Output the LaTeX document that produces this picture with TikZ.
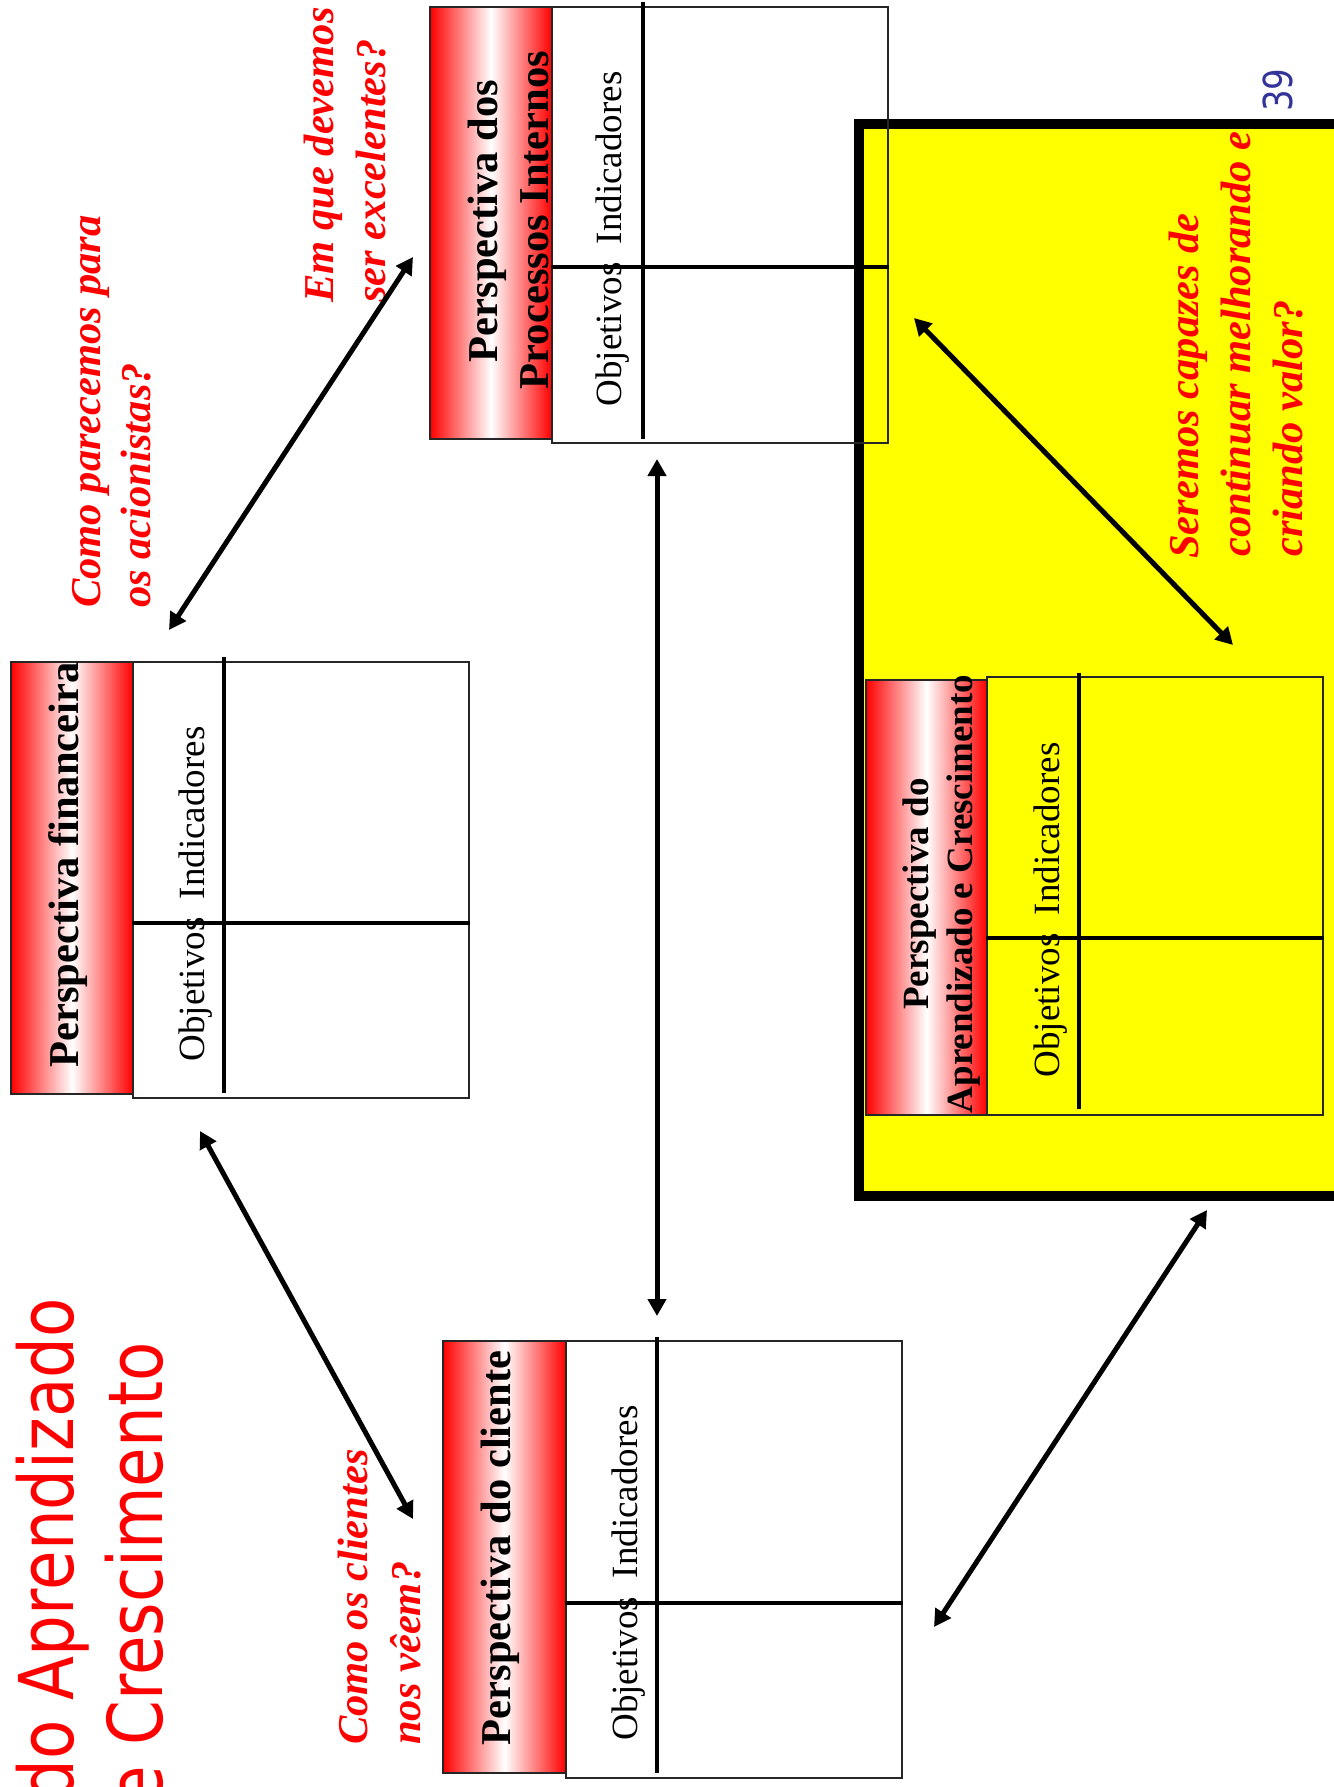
\documentclass[tikz,border=0pt]{standalone}
\usepackage{fontspec}
\setmainfont{Liberation Serif}
\newfontfamily\titlefont[FakeStretch=0.85]{DejaVu Sans}
\usetikzlibrary{arrows.meta,fit}

\definecolor{panelyellow}{RGB}{255,255,0}
\definecolor{askred}{RGB}{255,0,0}
\definecolor{pagenum}{RGB}{51,51,153}

\tikzset{
  header/.style={draw=black!85, line width=1.5pt, left color=red, right color=red,
                 middle color=white, inner sep=0pt},
  card/.style={draw=black!85, line width=1.9pt, inner sep=0pt},
  divider/.style={draw=black, line width=2.6pt},
  headtext/.style={rotate=90, anchor=base, inner sep=0pt,
                   font=\fontsize{31.9}{38}\selectfont\bfseries},
  headsmall/.style={rotate=90, anchor=base, inner sep=0pt,
                    font=\fontsize{27.75}{33}\selectfont\bfseries},
  celltext/.style={rotate=90, anchor=base, inner sep=0pt,
                   font=\fontsize{27.75}{33}\selectfont},
  asktext/.style={rotate=90, anchor=base west, inner sep=0pt, text=askred,
                  font=\fontsize{31.9}{38}\selectfont\bfseries\itshape},
  slidetitle/.style={rotate=90, anchor=base east, inner sep=0pt, text=askred,
                     font=\titlefont\fontsize{56.7}{68}\selectfont},
  link/.style={line width=3.75pt,
               {Triangle[length=12.75pt,width=13.5pt]}-{Triangle[length=12.75pt,width=13.5pt]}},
}

\begin{document}
\begin{tikzpicture}[x=0.75pt, y=-0.75pt]
  \clip (0,0) rectangle (1334,1787);
  \fill[white] (0,0) rectangle (1334,1787);

  % highlighted panel behind the learning perspective
  \draw[line width=7.5pt, fill=panelyellow] (859,124) rectangle (1420,1196);

  % ---- Perspectiva financeira ----
  \node[header, fit={(11,662)(133,1094)}] (finH) {};
  \node[card, fit={(133,662)(469,1098)}] (finC) {};
  \draw[divider] (224,657) -- (224,1093);
  \draw[divider] (finC.west |- 0,923) -- (finC.east |- 0,923);
  \node[headtext] (finT) at (78,865) {Perspectiva financeira};
  \node[celltext] (finL) at (204,894) {Objetivos\ \ Indicadores};

  % ---- Perspectiva dos Processos Internos ----
  \node[header, fit={(430,7)(552,439)}] (proH) {};
  \node[card, fit={(552,7)(888,443)}] (proC) {};
  \draw[divider] (643,2) -- (643,439);
  \draw[divider] (proC.west |- 0,267) -- (proC.east |- 0,267);
  \node[headtext] (proT1) at (497,221) {Perspectiva dos};
  \node[headtext] (proT2) at (548,220) {Processos Internos};
  \node[celltext] (proL) at (621,239) {Objetivos\ \ Indicadores};

  % ---- Perspectiva do cliente ----
  \node[header, fit={(443,1341)(566,1773)}] (cliH) {};
  \node[card, fit={(566,1341)(902,1778)}] (cliC) {};
  \draw[divider] (657,1337) -- (657,1773);
  \draw[divider] (cliC.west |- 0,1603) -- (cliC.east |- 0,1603);
  \node[headtext] (cliT) at (510,1548) {Perspectiva do cliente};
  \node[celltext] (cliL) at (637,1573) {Objetivos\ \ Indicadores};

  % ---- Perspectiva do Aprendizado e Crescimento ----
  \node[header, fit={(866,680)(987,1115)}] (lrnH) {};
  \node[card, fit={(987,677)(1323,1115)}] (lrnC) {};
  \draw[divider] (1079,673) -- (1079,1109);
  \draw[divider] (lrnC.west |- 0,938) -- (lrnC.east |- 0,938);
  \node[headsmall] (lrnT1) at (928,894) {Perspectiva do};
  \node[headsmall] (lrnT2) at (972,894) {Aprendizado e Crescimento};
  \node[celltext] (lrnL) at (1059,910) {Objetivos\ \ Indicadores};

  % ---- questions ----
  \node[asktext] (q1a) at (100,608) {Como parecemos para};
  \node[asktext] (q1b) at (150,608) {os acionistas?};
  \node[asktext] (q2a) at (333,303) {Em que devemos};
  \node[asktext] (q2b) at (385,303) {ser excelentes?};
  \node[asktext] (q3a) at (367,1745) {Como os clientes};
  \node[asktext] (q3b) at (420,1745) {nos vêem?};
  \node[asktext] (q4a) at (1198,559) {Seremos capazes de};
  \node[asktext] (q4b) at (1250,557) {continuar melhorando e};
  \node[asktext] (q4c) at (1302,557) {criando valor?};

  % ---- slide title and page number ----
  \node[slidetitle] (ttl1) at (73,1298) {do Aprendizado};
  \node[slidetitle] (ttl2) at (162,1342) {e Crescimento};
  \node[rotate=90, anchor=base, inner sep=0pt, text=pagenum,
        font=\titlefont\fontsize{30}{36}\selectfont] (pnum) at (1292,90) {39};

  % ---- links between the perspectives ----
  \coordinate (finTop) at (169,630);
  \coordinate (proLeft) at (413,257);
  \coordinate (finBot) at (200,1131);
  \coordinate (cliTop) at (413,1519);
  \coordinate (proBot) at (657,459);
  \coordinate (cliUp) at (657,1316);
  \coordinate (proRight) at (914,318);
  \coordinate (lrnTop) at (1233,645);
  \coordinate (lrnBot) at (1207,1210);
  \coordinate (cliRight) at (934,1627);

  \draw[link] (finTop) -- (proLeft);
  \draw[link] (finBot) -- (cliTop);
  \draw[link] (proBot) -- (cliUp);
  \draw[link] (proRight) -- (lrnTop);
  \draw[link] (lrnBot) -- (cliRight);
\end{tikzpicture}
\end{document}
